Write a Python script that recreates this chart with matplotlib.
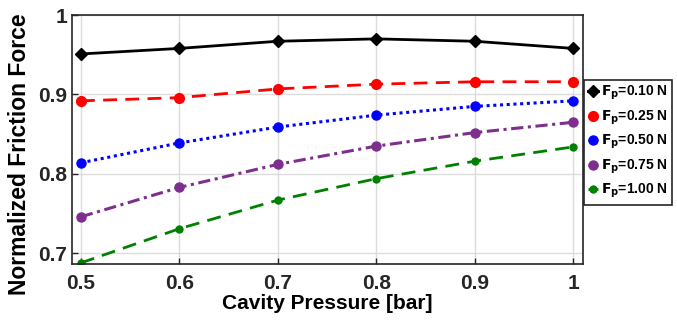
import matplotlib
matplotlib.use('Agg')
import matplotlib.pyplot as plt

plt.rcParams['font.family'] = ['Liberation Sans', 'DejaVu Sans']
plt.rcParams['font.weight'] = 'bold'

pressure = [0.5, 0.6, 0.7, 0.8, 0.9, 1.0]
f010 = [0.951, 0.958, 0.967, 0.970, 0.967, 0.958]
f025 = [0.892, 0.896, 0.907, 0.913, 0.916, 0.916]
f050 = [0.814, 0.839, 0.859, 0.874, 0.885, 0.892]
f075 = [0.746, 0.783, 0.812, 0.835, 0.852, 0.865]
f100 = [0.688, 0.731, 0.767, 0.794, 0.816, 0.834]
labels = ['$\\mathbf{F_p}$=0.10 N', '$\\mathbf{F_p}$=0.25 N', '$\\mathbf{F_p}$=0.50 N',
          '$\\mathbf{F_p}$=0.75 N', '$\\mathbf{F_p}$=1.00 N']

fig = plt.figure(figsize=(6.77, 3.2), dpi=100)
ax = fig.add_axes([0.1064, 0.175, 0.7546, 0.778])

ax.plot(pressure, f010, color='black', ls='-', lw=2, marker='D', ms=6, label=labels[0])
ax.plot(pressure, f025, color='#ff0000', ls=(0, (5, 3)), lw=2, marker='o', ms=7, label=labels[1])
ax.plot(pressure, f050, color='#0000ff', ls=(0, (1, 1.2)), lw=2.2, marker='o', ms=6.5, label=labels[2])
ax.plot(pressure, f075, color='#7e2f8e', ls=(0, (4, 1.5, 1, 1.5)), lw=2.2, marker='o', ms=6.5, label=labels[3])
ax.plot(pressure, f100, color='#008000', ls=(0, (5, 3)), lw=2, marker='o', ms=5, label=labels[4])

ax.set_xlim(0.491, 1.01)
ax.set_ylim(0.6866, 1.0)
ax.set_xticks([0.5, 0.6, 0.7, 0.8, 0.9, 1.0])
ax.set_xticklabels(['0.5', '0.6', '0.7', '0.8', '0.9', '1'])
ax.set_yticks([0.7, 0.8, 0.9, 1.0])
ax.set_yticklabels(['0.7', '0.8', '0.9', '1'])
ax.tick_params(direction='in', labelsize=15, colors='#262626', length=4, width=1)
ax.tick_params(axis='x', pad=7)
for lab in ax.get_xticklabels() + ax.get_yticklabels():
    lab.set_fontweight('bold')
ax.grid(True, color='#dcdcdc', lw=1)
for s in ax.spines.values():
    s.set_color('#262626')
    s.set_linewidth(1.2)

ax.set_xlabel('Cavity Pressure [bar]', fontsize=15, fontweight='bold', labelpad=1)
ax.set_ylabel('Normalized Friction Force', fontsize=16.5, fontweight='bold')
ax.yaxis.set_label_coords(-0.08, 0.44)

leg = ax.legend(loc='upper left', bbox_to_anchor=(1.002, 0.74), fontsize=10,
                handlelength=0.7, handletextpad=0.2, borderpad=0.3, labelspacing=0.45,
                fancybox=False, framealpha=1, edgecolor='#262626', borderaxespad=0)
leg.get_frame().set_linewidth(1.2)
for t in leg.get_texts():
    t.set_fontweight('bold')

fig.savefig('out.png', dpi=100)
